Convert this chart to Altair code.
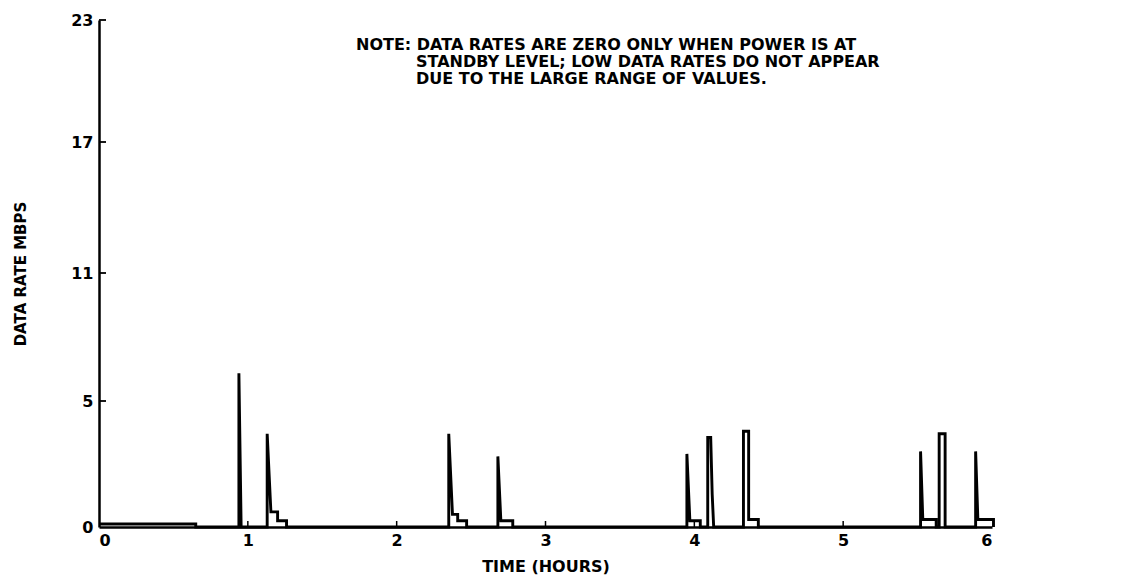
import altair as alt
import pandas as pd

# Time (hours) and data rate (Mbps) along the traced curve, in drawing order
time_h = [0.00, 0.65, 0.65, 0.94, 0.94, 0.955,
          1.13, 1.13, 1.155, 1.20, 1.20, 1.26, 1.26,
          2.35, 2.35, 2.375, 2.41, 2.41, 2.47, 2.47,
          2.68, 2.68, 2.70, 2.78, 2.78,
          3.95, 3.95, 3.97, 4.04, 4.04,
          4.09, 4.09, 4.11, 4.12, 4.13,
          4.33, 4.33, 4.365, 4.365, 4.43, 4.43,
          5.52, 5.52, 5.535, 5.625, 5.625,
          5.645, 5.645, 5.685, 5.685,
          5.89, 5.89, 5.905, 6.01, 6.01]
rate_mbps = [0.12, 0.12, 0.0, 0.0, 6.3, 0.0,
             0.0, 3.7, 0.6, 0.6, 0.25, 0.25, 0.0,
             0.0, 3.7, 0.5, 0.5, 0.25, 0.25, 0.0,
             0.0, 2.8, 0.25, 0.25, 0.0,
             0.0, 2.9, 0.25, 0.25, 0.0,
             0.0, 3.55, 3.55, 1.3, 0.0,
             0.0, 3.8, 3.8, 0.3, 0.3, 0.0,
             0.0, 3.0, 0.3, 0.3, 0.0,
             0.0, 3.7, 3.7, 0.0,
             0.0, 3.0, 0.3, 0.3, 0.0]

x_ticks = [0, 1, 2, 3, 4, 5, 6]
y_ticks = [0, 5, 11, 17, 23]
note_lines = ["NOTE:  DATA RATES ARE ZERO ONLY WHEN POWER IS AT",
              "STANDBY LEVEL;  LOW DATA RATES DO NOT APPEAR",
              "DUE TO THE LARGE RANGE OF VALUES."]

W, H = 893, 507
FONT = "DejaVu Sans"

df = pd.DataFrame({"t": time_h, "r": rate_mbps, "i": range(len(time_h))})

xscale = alt.Scale(domain=[0, 6], nice=False, zero=False)
yscale = alt.Scale(domain=y_ticks, range=[H, 381, 253, 122, 0], nice=False)

line = alt.Chart(df).mark_line(color="black", strokeWidth=2.9, interpolate="linear").encode(
    x=alt.X("t:Q", scale=xscale,
            axis=alt.Axis(values=x_ticks, title="TIME (HOURS)", format="d",
                          ticks=False, grid=False, domainColor="black", domainWidth=2.5,
                          labelFont=FONT, labelFontSize=16, labelFontWeight="bold",
                          labelColor="black", labelPadding=5,
                          titleFont=FONT, titleFontSize=16, titleFontWeight="bold",
                          titleColor="black", titlePadding=10)),
    y=alt.Y("r:Q", scale=yscale,
            axis=alt.Axis(values=y_ticks, title="DATA RATE MBPS", format="d",
                          ticks=False, grid=False, domainColor="black", domainWidth=2.5,
                          labelFont=FONT, labelFontSize=16, labelFontWeight="bold",
                          labelColor="black", labelPadding=6,
                          titleFont=FONT, titleFontSize=15, titleFontWeight="bold",
                          titleColor="black", titlePadding=42)),
    order="i:Q",
)

xt = alt.Chart(pd.DataFrame({"t": x_ticks[1:-1]})).mark_rule(color="black", strokeWidth=1.5).encode(
    x=alt.X("t:Q", scale=xscale), y=alt.value(H), y2=alt.value(H - 6))
yt = alt.Chart(pd.DataFrame({"r": y_ticks[1:]})).mark_rule(color="black", strokeWidth=1.8).encode(
    y=alt.Y("r:Q", scale=yscale), x=alt.value(0), x2=alt.value(7))

note_df = pd.DataFrame({
    "txt": note_lines,
    "px": [257, 317, 317],
    "py": [25, 42, 59],
})
note = alt.Chart(note_df).mark_text(align="left", baseline="middle", font=FONT,
                                    fontSize=16, fontWeight="bold", color="black").encode(
    text="txt:N", x=alt.X("px:Q", scale=None), y=alt.Y("py:Q", scale=None))

chart = alt.layer(line, xt, yt, note).properties(
    width=W, height=H,
    background="white",
    autosize=alt.AutoSizeParams(type="none"),
    padding={"left": 99, "top": 20, "right": 129, "bottom": 56},
).configure_view(stroke=None)

chart.save("out.html", embed_options={"renderer": "svg", "actions": False})
